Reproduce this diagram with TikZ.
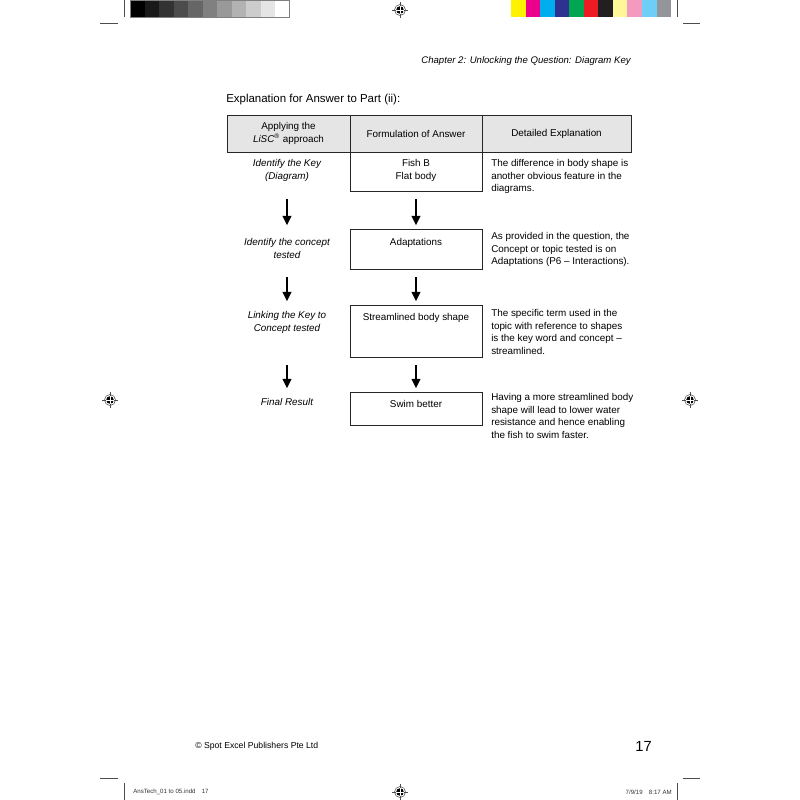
\documentclass[tikz,border=0pt]{standalone}
\usepackage{fontspec}
\setmainfont{Liberation Sans}
\usetikzlibrary{arrows.meta}
\definecolor{cbyellow}{HTML}{FFF200}
\definecolor{cbmagenta}{HTML}{EC008C}
\definecolor{cbcyan}{HTML}{00AEEF}
\definecolor{cbblue}{HTML}{2E3192}
\definecolor{cbgreen}{HTML}{00A651}
\definecolor{cbred}{HTML}{ED1C24}
\definecolor{cbblack}{HTML}{231F20}
\definecolor{cblyellow}{HTML}{FFF799}
\definecolor{cbpink}{HTML}{F49AC1}
\definecolor{cblcyan}{HTML}{6DCFF6}
\definecolor{cbgrey}{HTML}{939598}
\newcommand{\tblfont}{\fontsize{7.4}{9.3}\selectfont}
\tikzset{
  headcell/.style={draw=black!85, fill=black!10, line width=0.7pt, inner sep=0pt,
    minimum height=27.75pt, font=\tblfont, align=center},
  ansbox/.style={draw=black!85, line width=0.7pt, inner sep=0pt, minimum width=99pt},
  lefttext/.style={font=\tblfont\itshape, align=center, inner sep=0pt, anchor=north},
  boxtext/.style={font=\tblfont, align=center, inner sep=0pt, anchor=north},
  righttext/.style={font=\tblfont, align=left, inner sep=0pt, anchor=north west},
  arr/.style={line width=1.5pt, -{Triangle[width=6.5pt,length=7pt]},
    shorten <=6pt, shorten >=2.5pt},
  crop/.style={line width=0.4pt, black!70}
}
\begin{document}
\begin{tikzpicture}[x=0.75pt, y=-0.75pt]
    \useasboundingbox[fill=white] (0,0) rectangle (800,800);

    % Printer's marks: grey and colour bars
    \foreach \i in {0,...,10}{
        \pgfmathsetmacro{\gx}{130+14.5*\i}
        \pgfmathtruncatemacro{\gv}{100-10*\i}
        \fill[black!\gv] (\gx,0) rectangle ++(14.5,17);
    }
    \draw[black!50, line width=0.4pt] (130,0) rectangle (289.5,17);
    \foreach \c [count=\i from 0] in {cbyellow,cbmagenta,cbcyan,cbblue,cbgreen,cbred,cbblack,cblyellow,cbpink,cblcyan,cbgrey}{
        \pgfmathsetmacro{\cx}{511+14.55*\i}
        \fill[\c] (\cx,0) rectangle ++(14.55,17);
    }

    % Crop marks
    \draw[crop] (124,0) -- (124,17);
    \draw[crop] (677,0) -- (677,17);
    \draw[crop] (100,23) -- (118,23);
    \draw[crop] (683,23) -- (700,23);
    \draw[crop] (100,778) -- (118,778);
    \draw[crop] (683,778) -- (700,778);
    \draw[crop] (124,783) -- (124,800);
    \draw[crop] (677,783) -- (677,800);

    % Registration marks
    \foreach \mx/\my in {400/10, 110/400, 690/400, 400/792}{
        \draw[line width=0.4pt, black!70] (\mx,\my) circle (5.5);
        \fill (\mx,\my) circle (3.8);
        \draw[line width=0.4pt, black!70] (\mx-8,\my) -- (\mx+8,\my) (\mx,\my-8) -- (\mx,\my+8);
        \draw[white, line width=0.3pt] (\mx-3.8,\my) -- (\mx+3.8,\my) (\mx,\my-3.8) -- (\mx,\my+3.8);
    }

    % Running head and title
    \node[anchor=east, inner sep=0pt, font=\fontsize{7.2}{9}\selectfont\itshape] (chap) at (631,61.5)
        {Chapter 2: Unlocking the Question: Diagram Key};
    \node[anchor=west, inner sep=0pt, font=\fontsize{8.6}{10}\selectfont] (title) at (226,100)
        {Explanation for Answer to Part (ii):};

    % Table head
    \node[headcell, minimum width=92.25pt] (h1) at (288.5,133.5)
        {Applying the\\\textit{LiSC}\textsuperscript{\tiny ®} approach};
    \node[headcell, minimum width=99pt] (h2) at (416,133.5) {Formulation of Answer};
    \node[headcell, minimum width=111.75pt] (h3) at (556.5,133.5) {Detailed Explanation};

    % Answer boxes
    \node[ansbox, minimum height=29.25pt] (b1) at (416,171.5) {};
    \node[ansbox, minimum height=30pt] (b2) at (416,249) {};
    \node[ansbox, minimum height=39pt] (b3) at (416,331) {};
    \node[ansbox, minimum height=24.75pt] (b4) at (416,408.5) {};

    % Left column
    \node[lefttext] (k1) at (287,159.5) {Identify the Key\\(Diagram)};
    \node[lefttext] (k2) at (287,238.5) {Identify the concept\\tested};
    \node[lefttext] (k3) at (287,311.5) {Linking the Key to\\Concept tested};
    \node[lefttext] (k4) at (287,398.5) {Final Result};

    % Box texts
    \node[boxtext] (t1) at (416,159.5) {Fish B\\Flat body};
    \node[boxtext] (t2) at (416,238.5) {Adaptations};
    \node[boxtext] (t3) at (416,313.5) {Streamlined body shape};
    \node[boxtext] (t4) at (416,400.5) {Swim better};

    % Right column
    \node[righttext] (r1) at (491,159.5)
        {The difference in body shape is\\another obvious feature in the\\diagrams.};
    \node[righttext] (r2) at (491,232.5)
        {As provided in the question, the\\Concept or topic tested is on\\Adaptations (P6 -- Interactions).};
    \node[righttext] (r3) at (491,309.5)
        {The specific term used in the\\topic with reference to shapes\\is the key word and concept --\\streamlined.};
    \node[righttext] (r4) at (491,393.5)
        {Having a more streamlined body\\shape will lead to lower water\\resistance and hence enabling\\the fish to swim faster.};

    % Arrows
    \foreach \a/\b in {b1/b2, b2/b3, b3/b4}{
        \draw[arr] (\a.south) -- (\b.north);
        \draw[arr] (\a.south -| k1) -- (\b.north -| k1);
    }

    % Footer and slug
    \node[anchor=west, inner sep=0pt, font=\fontsize{6.5}{8}\selectfont] (copy) at (195,746)
        {\textcopyright\ Spot Excel Publishers Pte Ltd};
    \node[anchor=east, inner sep=0pt, font=\fontsize{11}{13}\selectfont] (page) at (652,746) {17};
    \node[anchor=west, inner sep=0pt, font=\fontsize{4.6}{5}\selectfont, black!80] (slugl) at (133,792)
        {AnsTech\_01 to 05.indd\quad 17};
    \node[anchor=east, inner sep=0pt, font=\fontsize{4.6}{5}\selectfont, black!80] (slugr) at (672,792)
        {7/9/19\quad 8:17 AM};
\end{tikzpicture}
\end{document}
